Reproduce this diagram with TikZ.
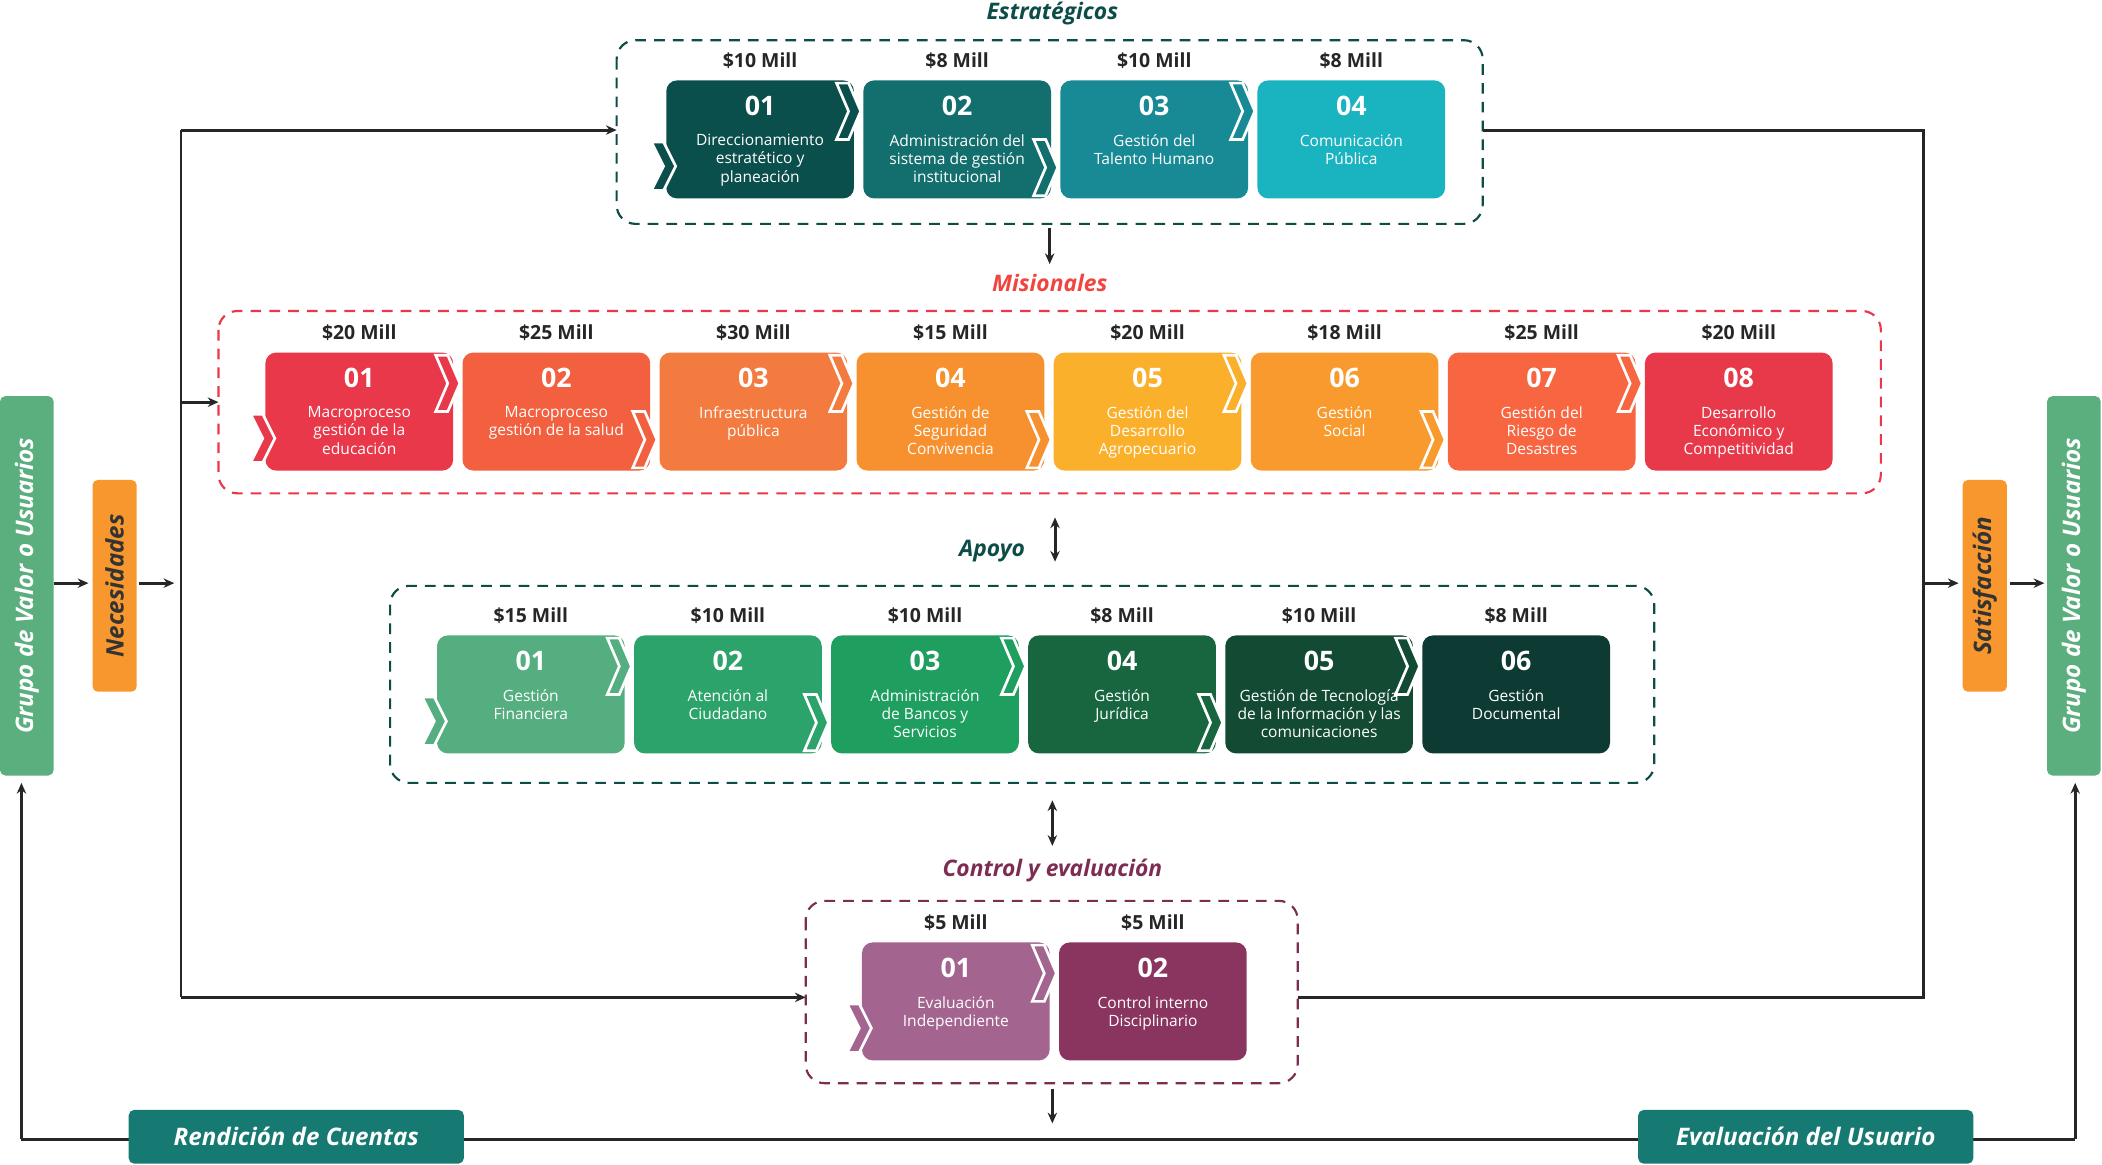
\documentclass[tikz,border=0pt]{standalone}
\usepackage{fontspec}
\setmainfont{Open Sans}
\usetikzlibrary{arrows.meta}
\definecolor{s1}{HTML}{0B4F4C}\definecolor{s2}{HTML}{136F6E}\definecolor{s3}{HTML}{178A95}\definecolor{s4}{HTML}{1AB3C0}
\definecolor{m1}{HTML}{E8384A}\definecolor{m2}{HTML}{F2603F}\definecolor{m3}{HTML}{F47B3F}\definecolor{m4}{HTML}{F7902E}
\definecolor{m5}{HTML}{FBB02B}\definecolor{m6}{HTML}{F99A2E}\definecolor{m7}{HTML}{F76541}\definecolor{m8}{HTML}{E8394A}
\definecolor{a1}{HTML}{55AE80}\definecolor{a2}{HTML}{2BA36A}\definecolor{a3}{HTML}{1E9E5F}\definecolor{a4}{HTML}{17663F}
\definecolor{a5}{HTML}{134A33}\definecolor{a6}{HTML}{0D3A33}
\definecolor{c1}{HTML}{A46490}\definecolor{c2}{HTML}{8A3560}
\definecolor{teal}{HTML}{0D4D48}\definecolor{redt}{HTML}{F0463F}\definecolor{purp}{HTML}{7D2D52}
\definecolor{gbar}{HTML}{5BAE7E}\definecolor{obar}{HTML}{F7972D}\definecolor{tbar}{HTML}{177A72}
\newcommand\procbox[7]{%
  \node[pbox,fill=#4] (#1) at (#2+70,#3+44) {};
  \node[pnum] (#1n) at (#2+70,#3+19) {#5};
  \node[ptxt,anchor=north] (#1t) at (#2+70,#3+40) {#6};
  \node[pamt] (#1a) at (#2+70,#3-15) {#7};}
\newcommand\chev[4]{% x, ytop, height, color
  \filldraw[fill=#4,draw=white,line width=2pt,line join=miter]
   (#1,#2) -- ++(9,0) -- ++(9,#3/2) -- ++(-9,#3/2) -- ++(-9,0) -- ++(9,-#3/2) -- cycle;}
\tikzset{
  pbox/.style={minimum width=140pt,minimum height=88pt,rounded corners=8pt,inner sep=0},
  pnum/.style={text=white,font=\fontsize{20}{22}\selectfont\bfseries},
  ptxt/.style={text=white,font=\fontsize{11.6}{13.6}\selectfont,align=center,inner sep=0},
  pamt/.style={text=black!85,font=\fontsize{14.5}{16}\selectfont\bfseries},
  ttl/.style={font=\fontsize{17}{19}\selectfont\bfseries\itshape},
  grp/.style={dashed,line width=1.6pt,rounded corners=14pt,dash pattern=on 8pt off 6pt},
  ln/.style={line width=2.2pt,black!85},
  arr/.style={ln,-{Stealth[length=8pt,width=7pt]}},
  darr/.style={ln,{Stealth[length=8pt,width=7pt]}-{Stealth[length=8pt,width=7pt]}},
  vbar/.style={rounded corners=4pt,inner sep=0},
  vtxt/.style={rotate=90,font=\fontsize{18}{20}\selectfont\bfseries\itshape},
  hbar/.style={rounded corners=4pt,fill=tbar,text=white,minimum width=250pt,minimum height=40pt,font=\fontsize{18}{20}\selectfont\bfseries\itshape},
}
\begin{document}
\begin{tikzpicture}[x=1pt,y=-1pt]
\useasboundingbox[fill=white] (0,0) rectangle (1568,869);
% groups
\node[ttl,text=teal] (tE) at (785,10) {Estratégicos};
\draw[grp,teal] (460,30) rectangle (1106,167);
\node[ttl,text=redt] (tM) at (783,211) {Misionales};
\draw[grp,m1] (163,232) rectangle (1403,368);
\node[ttl,text=teal] (tA) at (740,411) {Apoyo};
\draw[grp,teal] (291,437) rectangle (1234,584);
\node[ttl,text=purp] (tC) at (785,649) {Control y evaluación};
\draw[grp,purp] (601,672) rectangle (968,808);
\coordinate (Eg) at (460,97);\coordinate (Er) at (1106,97);
% strategic
\procbox{e1}{497}{60}{s1}{01}{Direccionamiento\\estratético y\\planeación}{\$10 Mill}
\procbox{e2}{644}{60}{s2}{02}{Administración del\\sistema de gestión\\institucional}{\$8 Mill}
\procbox{e3}{791}{60}{s3}{03}{Gestión del\\Talento Humano}{\$10 Mill}
\procbox{e4}{938}{60}{s4}{04}{Comunicación\\Pública}{\$8 Mill}
\chev{486}{106}{36}{s1}\chev{624}{62}{42}{s1}\chev{771}{104}{42}{s2}\chev{918}{62}{42}{s3}
% misionales
\procbox{m1}{198}{263}{m1}{01}{Macroproceso\\gestión de la\\educación}{\$20 Mill}
\procbox{m2}{345}{263}{m2}{02}{Macroproceso\\gestión de la salud}{\$25 Mill}
\procbox{m3}{492}{263}{m3}{03}{Infraestructura\\pública}{\$30 Mill}
\procbox{m4}{639}{263}{m4}{04}{Gestión de\\Seguridad\\Convivencia}{\$15 Mill}
\procbox{m5}{786}{263}{m5}{05}{Gestión del\\Desarrollo\\Agropecuario}{\$20 Mill}
\procbox{m6}{933}{263}{m6}{06}{Gestión\\Social}{\$18 Mill}
\procbox{m7}{1080}{263}{m7}{07}{Gestión del\\Riesgo de\\Desastres}{\$25 Mill}
\procbox{m8}{1227}{263}{m8}{08}{Desarrollo\\Económico y\\Competitividad}{\$20 Mill}
\chev{187}{309}{36}{m1}\chev{325}{265}{42}{m1}\chev{472}{307}{42}{m2}\chev{619}{265}{42}{m3}
\chev{766}{307}{42}{m4}\chev{913}{265}{42}{m5}\chev{1060}{307}{42}{m6}\chev{1207}{265}{42}{m7}
% apoyo
\procbox{a1}{326}{474}{a1}{01}{Gestión\\Financiera}{\$15 Mill}
\procbox{a2}{473}{474}{a2}{02}{Atención al\\Ciudadano}{\$10 Mill}
\procbox{a3}{620}{474}{a3}{03}{Administración\\de Bancos y\\Servicios}{\$10 Mill}
\procbox{a4}{767}{474}{a4}{04}{Gestión\\Jurídica}{\$8 Mill}
\procbox{a5}{914}{474}{a5}{05}{Gestión de Tecnología\\de la Información y las\\comunicaciones}{\$10 Mill}
\procbox{a6}{1061}{474}{a6}{06}{Gestión\\Documental}{\$8 Mill}
\chev{315}{520}{36}{a1}\chev{453}{476}{42}{a1}\chev{600}{518}{42}{a2}\chev{747}{476}{42}{a3}
\chev{894}{518}{42}{a4}\chev{1041}{476}{42}{a5}
% control
\procbox{c1}{643}{703}{c1}{01}{Evaluación\\Independiente}{\$5 Mill}
\procbox{c2}{790}{703}{c2}{02}{Control interno\\Disciplinario}{\$5 Mill}
\chev{632}{749}{36}{c1}\chev{770}{705}{42}{c1}
% side bars
\node[vbar,fill=gbar,minimum width=40pt,minimum height=283pt] (gl) at (20,437) {};
\node[vtxt,text=white] (glt) at (20,437) {Grupo de Valor o Usuarios};
\node[vbar,fill=obar,minimum width=33pt,minimum height=158pt] (nec) at (85.5,437) {};
\node[vtxt,text=black!80] (nect) at (85.5,437) {Necesidades};
\node[vbar,fill=obar,minimum width=33pt,minimum height=158pt] (sat) at (1480.5,437) {};
\node[vtxt,text=black!80] (satt) at (1480.5,437) {Satisfacción};
\node[vbar,fill=gbar,minimum width=40pt,minimum height=283pt] (gr) at (1547,437) {};
\node[vtxt,text=white] (grt) at (1547,437) {Grupo de Valor o Usuarios};
\draw[arr] (40,435) -- (66,435);
\draw[arr] (104,435) -- (130,435);
\draw[arr] (1435,435) -- (1461,435);
\draw[arr] (1499,435) -- (1525,435);
% flow lines
\draw[ln] (135,97) -- (135,744);
\draw[arr] (135,97) -- (Eg);
\draw[arr] (135,300) -- (163,300);
\draw[arr] (135,744) -- (601,744);
\draw[ln] (Er) -- (1435,97) -- (1435,744) -- (968,744);
\draw[arr] (783,170) -- (783,197);
\draw[darr] (787,386) -- (787,419);
\draw[darr] (785,597) -- (785,631);
\draw[arr] (785,812) -- (785,838);
% bottom loop
\draw[arr] (1548,850) -- (1548,584);
\draw[arr] (16,850) -- (16,584);
\draw[ln] (16,850) -- (1548,850);
\node[hbar] (rc) at (221,848) {Rendición de Cuentas};
\node[hbar] (eu) at (1347,848) {Evaluación del Usuario};
\end{tikzpicture}
\end{document}
